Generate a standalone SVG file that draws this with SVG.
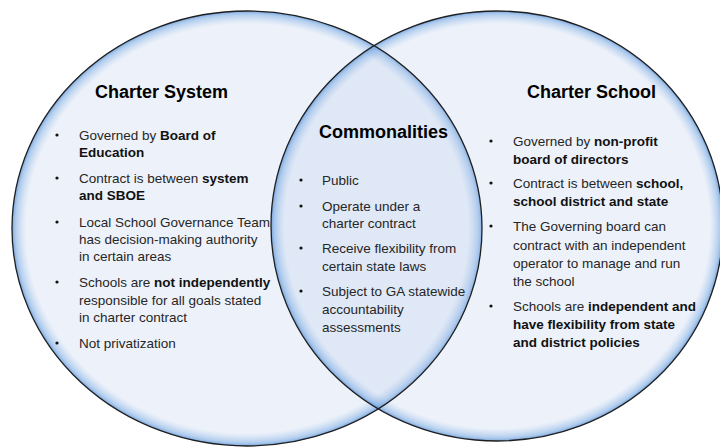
<svg xmlns="http://www.w3.org/2000/svg" width="720" height="448" viewBox="0 0 720 448">
  <defs>
    <radialGradient id="bubble" cx="50%" cy="50%" r="50%">
      <stop offset="0" stop-color="#B7CBEB" stop-opacity="0.25"/>
      <stop offset="0.94" stop-color="#B7CBEB" stop-opacity="0.25"/>
      <stop offset="0.985" stop-color="#7AAAE2" stop-opacity="0.6"/>
      <stop offset="1" stop-color="#5A90D6" stop-opacity="0.8"/>
    </radialGradient>
  </defs>
  <style>
    .fill { fill: url(#bubble); stroke: none; }
    .rim { fill: none; stroke: #1f1f1f; stroke-width: 1.3; }
    .title { font-family: "Liberation Sans", Arial, sans-serif; font-size: 18px; font-weight: bold; fill: #000; }
    .txt { font-family: "Liberation Sans", Arial, sans-serif; font-size: 13.5px; fill: #262626; }
    .b { font-weight: bold; fill: #111; }
    .dot { fill: #111; }
  </style>
  <rect width="720" height="448" fill="#ffffff"/>

  <g id="shapes">
    <ellipse class="fill" cx="247" cy="228.5" rx="235" ry="217.5"/>
    <ellipse class="fill" cx="497" cy="226" rx="226" ry="215"/>
    <ellipse class="rim" cx="247" cy="228.5" rx="235" ry="217.5"/>
    <ellipse class="rim" cx="497" cy="226" rx="226" ry="215"/>
  </g>

  <g id="charter-system">
    <text class="title" x="95" y="98">Charter System</text>
    <circle class="dot" cx="57" cy="135" r="1.6"/>
    <text class="txt" x="79" y="140">Governed by <tspan class="b">Board of</tspan></text>
    <text class="txt b" x="79" y="157">Education</text>
    <circle class="dot" cx="57" cy="178" r="1.6"/>
    <text class="txt" x="79" y="183">Contract is between <tspan class="b">system</tspan></text>
    <text class="txt b" x="79" y="200">and SBOE</text>
    <circle class="dot" cx="57" cy="222" r="1.6"/>
    <text class="txt" x="79" y="227">Local School Governance Team</text>
    <text class="txt" x="79" y="244">has decision-making authority</text>
    <text class="txt" x="79" y="261">in certain areas</text>
    <circle class="dot" cx="57" cy="282" r="1.6"/>
    <text class="txt" x="79" y="287">Schools are <tspan class="b">not independently</tspan></text>
    <text class="txt" x="79" y="305">responsible for all goals stated</text>
    <text class="txt" x="79" y="322">in charter contract</text>
    <circle class="dot" cx="57" cy="343" r="1.6"/>
    <text class="txt" x="79" y="348">Not privatization</text>
  </g>

  <g id="commonalities">
    <text class="title" x="319" y="138">Commonalities</text>
    <circle class="dot" cx="301" cy="180" r="1.6"/>
    <text class="txt" x="322" y="185">Public</text>
    <circle class="dot" cx="301" cy="206" r="1.6"/>
    <text class="txt" x="322" y="211">Operate under a</text>
    <text class="txt" x="322" y="228">charter contract</text>
    <circle class="dot" cx="301" cy="248" r="1.6"/>
    <text class="txt" x="322" y="253">Receive flexibility from</text>
    <text class="txt" x="322" y="271">certain state laws</text>
    <circle class="dot" cx="301" cy="291" r="1.6"/>
    <text class="txt" x="322" y="296">Subject to GA statewide</text>
    <text class="txt" x="322" y="314">accountability</text>
    <text class="txt" x="322" y="332">assessments</text>
  </g>

  <g id="charter-school">
    <text class="title" x="527" y="98">Charter School</text>
    <circle class="dot" cx="491" cy="141" r="1.6"/>
    <text class="txt" x="513" y="146">Governed by <tspan class="b">non-profit</tspan></text>
    <text class="txt b" x="513" y="164">board of directors</text>
    <circle class="dot" cx="491" cy="183" r="1.6"/>
    <text class="txt" x="513" y="188">Contract is between <tspan class="b">school,</tspan></text>
    <text class="txt b" x="513" y="206">school district and state</text>
    <circle class="dot" cx="491" cy="226" r="1.6"/>
    <text class="txt" x="513" y="231">The Governing board can</text>
    <text class="txt" x="513" y="250">contract with an independent</text>
    <text class="txt" x="513" y="268">operator to manage and run</text>
    <text class="txt" x="513" y="286">the school</text>
    <circle class="dot" cx="491" cy="306" r="1.6"/>
    <text class="txt" x="513" y="311">Schools are <tspan class="b">independent and</tspan></text>
    <text class="txt b" x="513" y="329">have flexibility from state</text>
    <text class="txt b" x="513" y="347">and district policies</text>
  </g>
</svg>
